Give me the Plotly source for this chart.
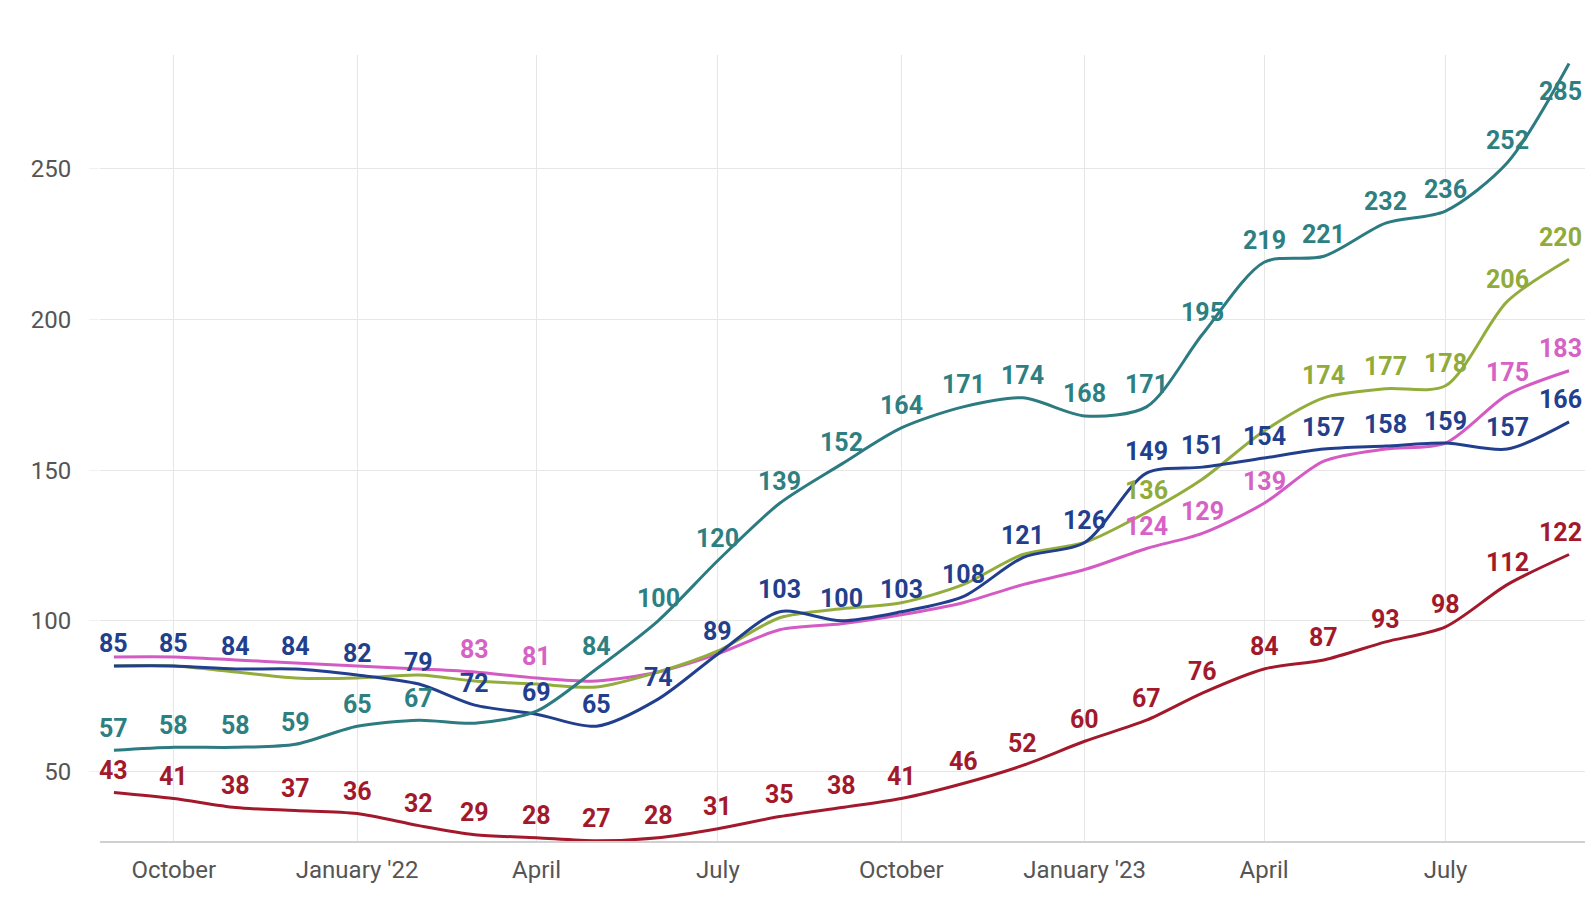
import plotly.graph_objects as go

months = ["2021-09-01", "2021-10-01", "2021-11-01", "2021-12-01", "2022-01-01",
          "2022-02-01", "2022-03-01", "2022-04-01", "2022-05-01", "2022-06-01",
          "2022-07-01", "2022-08-01", "2022-09-01", "2022-10-01", "2022-11-01",
          "2022-12-01", "2023-01-01", "2023-02-01", "2023-03-01", "2023-04-01",
          "2023-05-01", "2023-06-01", "2023-07-01", "2023-08-01", "2023-09-01"]

teal = [57, 58, 58, 59, 65, 67, 66, 70, 84, 100, 120, 139, 152, 164, 171, 174,
        168, 171, 195, 219, 221, 232, 236, 252, 285]
olive = [85, 85, 83, 81, 81, 82, 80, 79, 78, 83, 90, 101, 104, 106, 112, 122,
         126, 136, 147, 163, 174, 177, 178, 206, 220]
pink = [88, 88, 87, 86, 85, 84, 83, 81, 80, 83, 89, 97, 99, 102, 106, 112,
        117, 124, 129, 139, 153, 157, 159, 175, 183]
navy = [85, 85, 84, 84, 82, 79, 72, 69, 65, 74, 89, 103, 100, 103, 108, 121,
        126, 149, 151, 154, 157, 158, 159, 157, 166]
red = [43, 41, 38, 37, 36, 32, 29, 28, 27, 28, 31, 35, 38, 41, 46, 52,
       60, 67, 76, 84, 87, 93, 98, 112, 122]

# which labels are visible (index of month) per series
teal_labels = [i for i in range(25) if i not in (6, 7)]
olive_labels = [17, 20, 21, 22, 23, 24]
pink_labels = [6, 7, 17, 18, 19, 23, 24]
navy_labels = list(range(25))
red_labels = list(range(25))

tick_dates = ["2021-10-01", "2022-01-01", "2022-04-01", "2022-07-01",
              "2022-10-01", "2023-01-01", "2023-04-01", "2023-07-01"]
tick_text = ["October", "January '22", "April", "July",
             "October", "January '23", "April", "July"]
y_ticks = [50, 100, 150, 200, 250]

series = [
    ("red", red, red_labels, "#a3192c", "#a3192c"),
    ("pink", pink, pink_labels, "#d45bc4", "#d662c6"),
    ("olive", olive, olive_labels, "#93ad3d", "#90ab3a"),
    ("navy", navy, navy_labels, "#223f8e", "#223f8e"),
    ("teal", teal, teal_labels, "#2b7b80", "#2e7f82"),
]

fig = go.Figure()
annotations = []
for name, vals, lab_idx, lc, tc in series:
    fig.add_trace(go.Scatter(
        x=months, y=vals, mode="lines", name=name,
        line=dict(color=lc, width=3, shape="spline", smoothing=0.8),
        hoverinfo="skip", showlegend=False,
    ))
    for i in lab_idx:
        xs, ys = 0, 22
        if i == len(vals) - 1:
            xs = -9
        if name == "teal" and i == len(vals) - 1:
            ys = -28
        annotations.append(dict(
            x=months[i], y=vals[i], text=str(vals[i]), showarrow=False,
            xref="x", yref="y", xshift=xs, yshift=ys,
            font=dict(family="Roboto", size=25, color=tc, weight="bold"),
        ))

# the page body has an 8px margin, so the figure is sized to fit inside it
fig.update_layout(
    width=1579, height=892,
    margin=dict(l=92, r=2, t=47, b=59),
    paper_bgcolor="white", plot_bgcolor="white",
    annotations=annotations,
    font=dict(family="Roboto"),
    xaxis=dict(
        type="date",
        range=["2021-08-25", "2023-09-09"],
        tickvals=tick_dates, ticktext=tick_text,
        showgrid=True, gridcolor="#e6e6e6", gridwidth=1,
        showline=True, linecolor="#d0d0d0", linewidth=1.5,
        ticks="", ticklabelstandoff=6,
        tickfont=dict(family="Roboto", size=24, color="#555555"),
        zeroline=False,
    ),
    yaxis=dict(
        range=[26.9, 287.8],
        tickvals=y_ticks,
        showgrid=True, gridcolor="#e6e6e6", gridwidth=1,
        showline=False, zeroline=False,
        ticks="outside", ticklen=10, tickcolor="#f0f0f0",
        ticklabelstandoff=13,
        tickfont=dict(family="Roboto", size=24, color="#555555"),
    ),
)

fig.write_html("out.html")
